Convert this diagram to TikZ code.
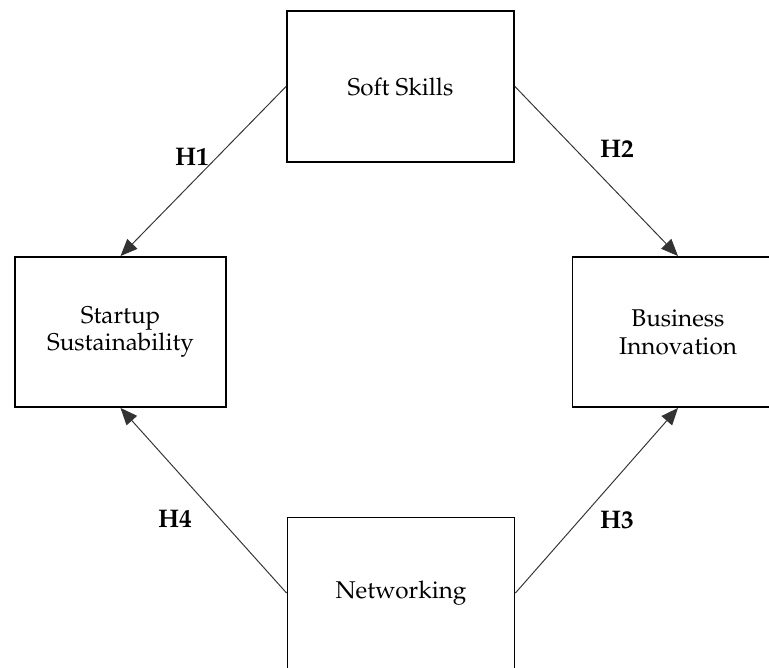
\documentclass[tikz,border=0pt]{standalone}
\usepackage[T1]{fontenc}
\usepackage{mathpazo}
\usepackage{tikz}
\usetikzlibrary{arrows.meta,positioning}
\tikzset{
  var/.style ={rectangle, draw=black, line width=1.1pt, fill=white,
               align=center, inner sep=4pt,
               font=\fontsize{13.8}{15.8}\selectfont},
  hyp/.style ={-{Triangle[length=3.4mm, width=2.8mm]}, draw=black!80, line width=0.55pt},
  hlbl/.style={font=\fontsize{14.5}{16}\selectfont\bfseries}
}
\begin{document}
\begin{tikzpicture}[x=0.02cm, y=-0.02cm]
\clip (0,0) rectangle (769,668);
\useasboundingbox (0,0) rectangle (769,668);
\node[var, minimum width=4.54cm, minimum height=3.02cm] (soft) at (400.5,86.5) {Soft Skills};
\node[var, minimum width=4.22cm, minimum height=3.0cm] (start) at (120.5,332) {Startup\\Sustainability};
\node[var, minimum width=4.22cm, minimum height=3.0cm] (biz) at (678,332) {Business\\Innovation};
\node[var, minimum width=4.54cm, minimum height=3.02cm] (net) at (401,593) {Networking};
\draw[hyp] (soft.west) -- (start.north);
\draw[hyp] (soft.east) -- (biz.north);
\draw[hyp] (net.east) -- (biz.south);
\draw[hyp] (net.west) -- (start.south);
\node[hlbl] (h1) at (192,157) {H1};
\node[hlbl] (h2) at (617,149) {H2};
\node[hlbl] (h3) at (617,520) {H3};
\node[hlbl] (h4) at (175,519) {H4};
\end{tikzpicture}
\end{document}
